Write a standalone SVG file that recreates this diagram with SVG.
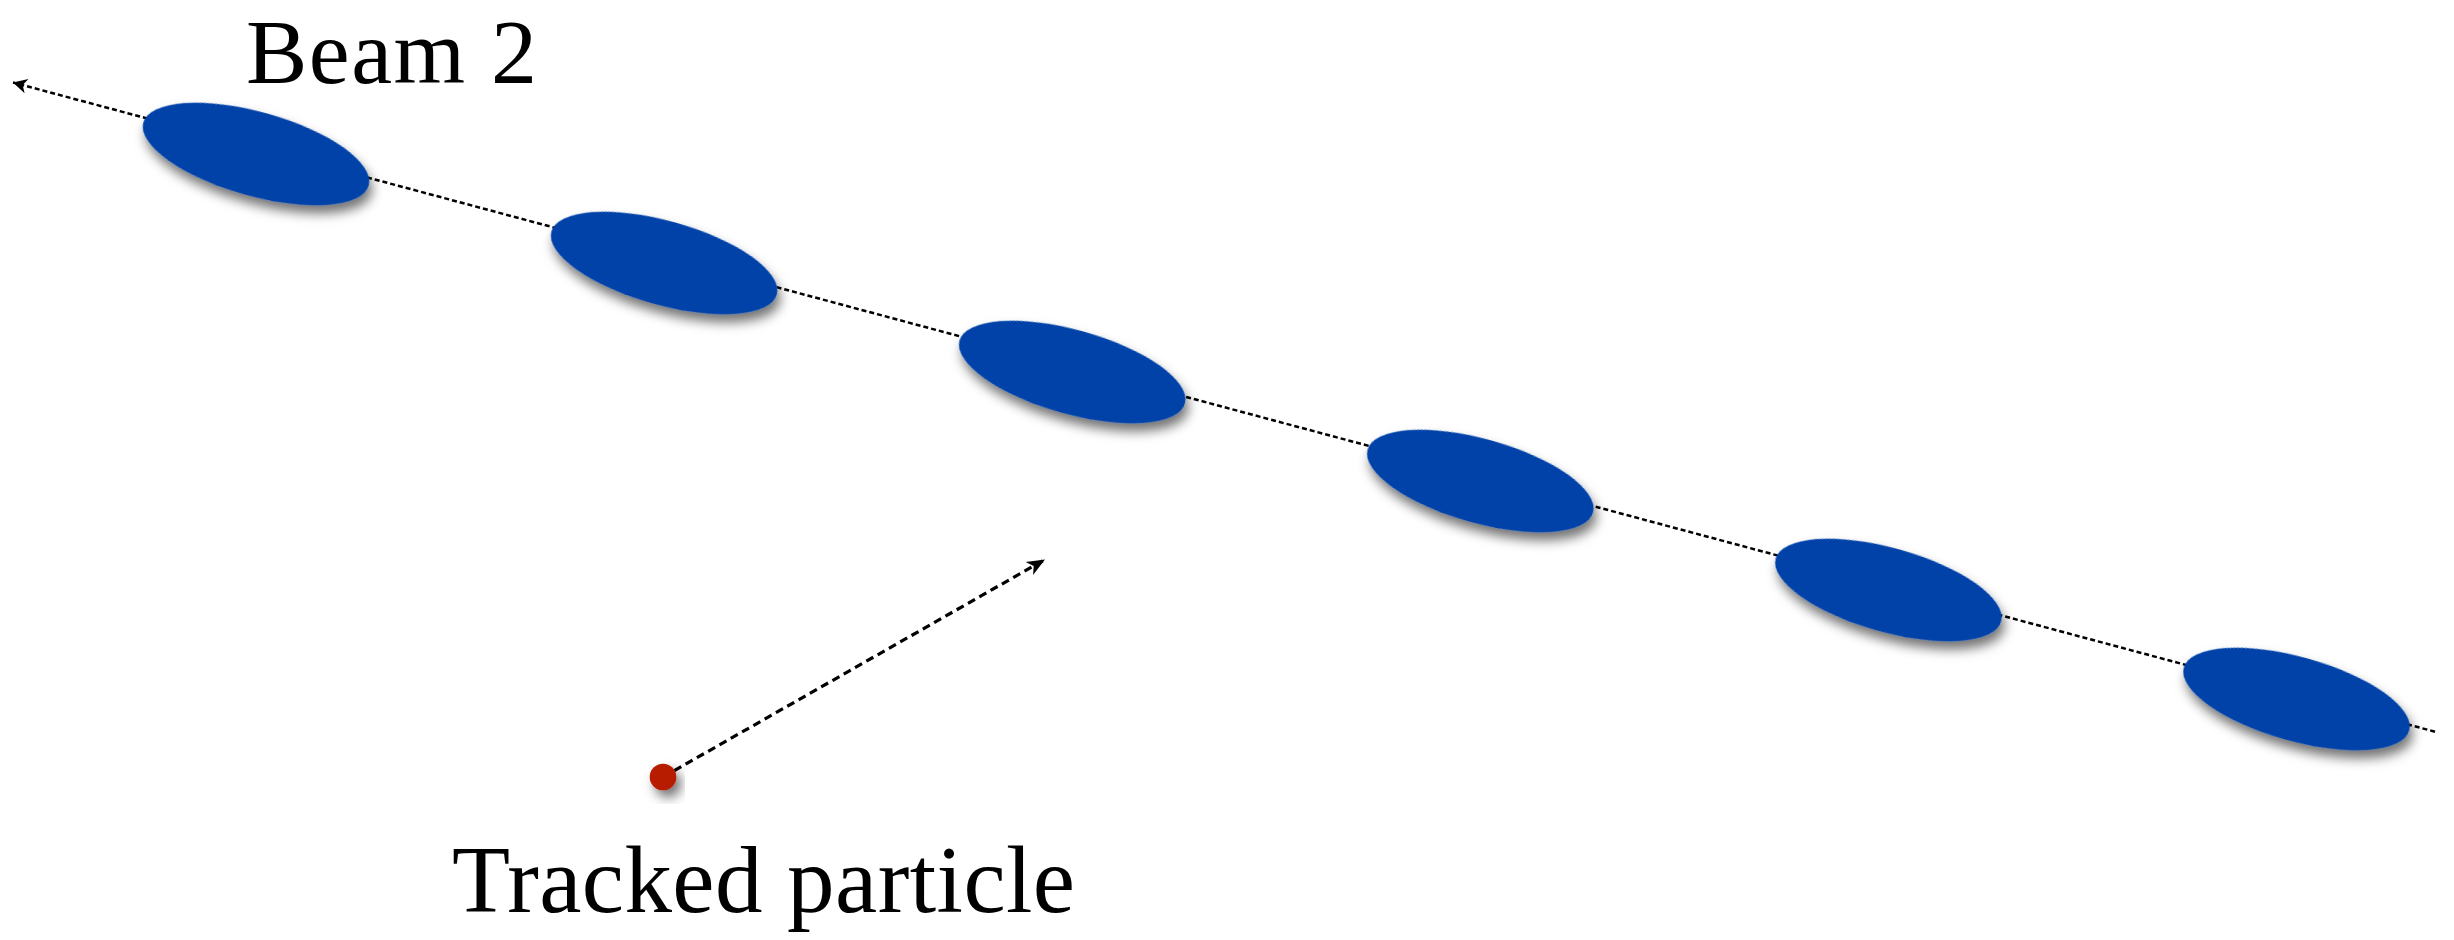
<svg xmlns="http://www.w3.org/2000/svg" width="2454" height="940" viewBox="0 0 2454 940">
  <style>
    .bunch { fill: #0443A8; filter: url(#shadow); }
    .beamline { stroke: #000; stroke-width: 2.5; stroke-dasharray: 5 3; fill: none; }
    .trackline { stroke: #000; stroke-width: 3.2; stroke-dasharray: 8 5; fill: none; }
    .label { font-family: "Liberation Serif", "Times New Roman", serif; fill: #000; }
  </style>
  <defs>
    <filter id="shadow" x="-30%" y="-50%" width="160%" height="200%">
      <feDropShadow dx="5" dy="7" stdDeviation="6" flood-color="#000" flood-opacity="0.55"/>
    </filter>
    <marker id="arrowSmall" markerUnits="userSpaceOnUse" markerWidth="16" markerHeight="16" refX="14" refY="7.5" orient="auto" overflow="visible">
      <path d="M0,0 L14,7.5 L0,15 L4,7.5 Z" fill="#000"/>
    </marker>
    <marker id="arrowTrack" markerUnits="userSpaceOnUse" markerWidth="20" markerHeight="18" refX="18" refY="7.5" orient="auto" overflow="visible">
      <path d="M0,0 L18,7.5 L0,15 L5,7.5 Z" fill="#000"/>
    </marker>
  </defs>

  <g id="connectors">
    <line id="beam-line" class="beamline" x1="2435" y1="731.7" x2="13" y2="82.5" marker-end="url(#arrowSmall)"/>
    <line id="track-line" class="trackline" x1="663" y1="777" x2="1045" y2="559.5" marker-end="url(#arrowTrack)"/>
  </g>

  <g id="bunch1"><ellipse class="bunch" cx="256" cy="154" rx="117" ry="42" transform="rotate(15.6 256 154)"/></g>
  <g id="bunch2"><ellipse class="bunch" cx="664.1" cy="263" rx="117" ry="42" transform="rotate(15.6 664.1 263)"/></g>
  <g id="bunch3"><ellipse class="bunch" cx="1072.2" cy="372" rx="117" ry="42" transform="rotate(15.6 1072.2 372)"/></g>
  <g id="bunch4"><ellipse class="bunch" cx="1480.3" cy="481" rx="117" ry="42" transform="rotate(15.6 1480.3 481)"/></g>
  <g id="bunch5"><ellipse class="bunch" cx="1888.4" cy="590" rx="117" ry="42" transform="rotate(15.6 1888.4 590)"/></g>
  <g id="bunch6"><ellipse class="bunch" cx="2296.5" cy="699" rx="117" ry="42" transform="rotate(15.6 2296.5 699)"/></g>

  <g id="particle">
    <circle cx="663" cy="777" r="13.3" fill="#B81C00" filter="url(#shadow)"/>
  </g>

  <g id="label-beam2">
    <text class="label" x="246" y="83" font-size="92" textLength="291" lengthAdjust="spacing">Beam 2</text>
  </g>
  <g id="label-tracked">
    <text class="label" x="452" y="912" font-size="95" textLength="623" lengthAdjust="spacing">Tracked particle</text>
  </g>
</svg>
